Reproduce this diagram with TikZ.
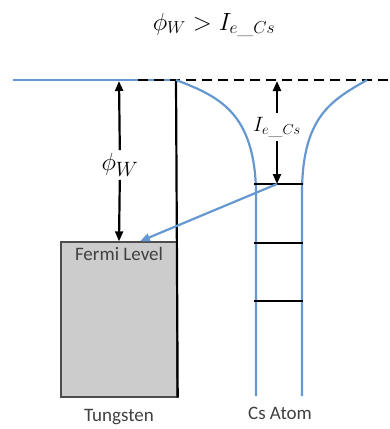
\documentclass[tikz,border=0pt]{standalone}
\usepackage{fontspec}
\setsansfont{Carlito}
\usetikzlibrary{positioning, arrows.meta, calc}
\definecolor{wellblue}{RGB}{101,152,208}
\definecolor{metalgray}{RGB}{204,204,204}

\begin{document}
\begin{tikzpicture}[x=1pt, y=-1pt, >={Triangle[length=10pt,width=8pt]},
    well/.style={draw=wellblue, line width=2.2pt},
    level/.style={draw=black, line width=2.2pt},
    gap/.style={->, line width=2.2pt},
    lbl/.style={font=\sffamily\fontsize{19}{22}\selectfont, text=black!75, inner sep=0pt}]
  \useasboundingbox (0,0) rectangle (389,429);

  \node (title) at (214,25) {\fontsize{23}{26}\selectfont $\phi_W > I_{e\_Cs}$};

  % tungsten block
  \node[draw=black!70, line width=1.4pt, fill=metalgray, minimum width=116pt,
        minimum height=155pt, inner sep=0pt] (box) at (119,319.5) {};
  \node[lbl, below=6pt of box.north] (fermi) {Fermi Level};
  \node[lbl, below=11pt of box.south] (tungsten) {Tungsten};
  \coordinate (wtop) at (119,81);
  \coordinate (edge) at (176,80);
  \coordinate (land) at ([xshift=21pt]box.north);

  % vacuum level
  \coordinate (vleft) at (13,80);
  \coordinate (vdash) at (138,80);
  \coordinate (vright) at (389,80);
  \draw[well] (vleft) -- (edge);
  \draw[line width=2.2pt, dash pattern=on 10pt off 6pt] (vdash) -- (vright);
  \draw[line width=2.2pt] (box.south east) -- (edge);

  % Cs potential well
  \coordinate (lwall) at (256,396);
  \coordinate (rwall) at (302,396);
  \coordinate (rtop) at (367,80);
  \draw[well] (edge) .. controls (218,96) and (254,112) .. (256,190) -- (lwall);
  \draw[well] (rtop) .. controls (332,100) and (303,116) .. (302,190) -- (rwall);
  \coordinate (wellfoot) at ($(lwall)!0.5!(rwall)+(1,0)$);
  \node[lbl, below=11pt of wellfoot] (cs) {Cs Atom};

  \coordinate (lvl1) at (277,184);
  \foreach \y in {184,243,301}
    \draw[level] (254,\y) -- (303,\y);

  % energies
  \node (phiW) at (120,165) {\fontsize{29}{32}\selectfont $\phi_W$};
  \path[gap] (phiW) edge (wtop)
             (phiW) edge (box.north);
  \coordinate (ctop) at (277,81);
  \node (Ie) at (277,127) {\fontsize{20}{23}\selectfont $I_{e\_Cs}$};
  \draw[gap] (Ie.north -| ctop) -- (ctop);
  \draw[gap] (Ie.south -| ctop) -- (lvl1);

  % electron transfer
  \draw[->, draw=wellblue, line width=2.2pt] (lvl1) -- (land);
\end{tikzpicture}
\end{document}
